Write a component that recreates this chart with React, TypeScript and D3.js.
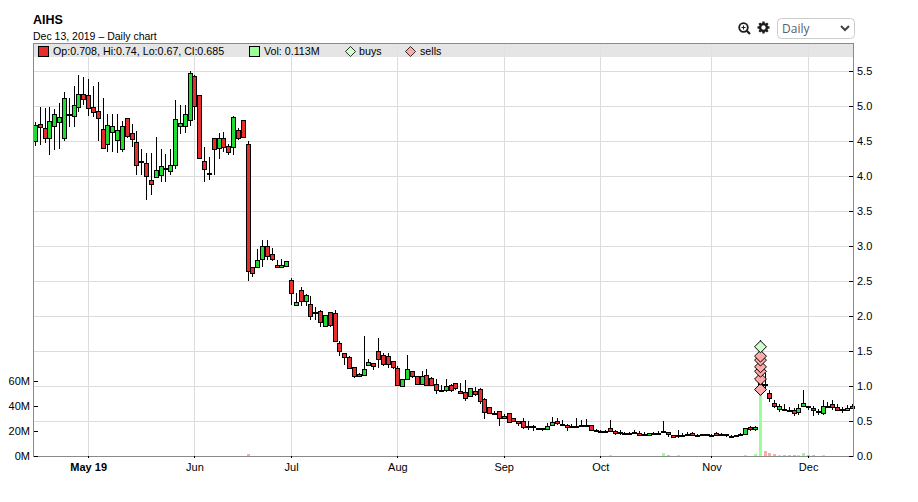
// App.tsx
import { useEffect, useRef } from 'react';
import * as d3 from 'd3';

const opens = [
  4.5, 4.745, 4.683, 4.545, 4.716, 4.773, 4.545, 4.88, 4.859, 4.988,
  5.169, 5.16, 4.988, 4.93, 4.674, 4.459, 4.63, 4.516, 4.388, 4.826,
  4.611, 4.483, 4.21, 4.188, 3.945, 3.988, 4.012, 4.115, 4.074, 4.16,
  4.716, 4.716, 4.8, 5.435, 5.16, 4.216, 4.045, 4.54, 4.407, 4.54,
  4.43, 4.416, 4.66, 4.8, 4.459, 2.702, 2.702, 2.816, 3.002, 2.883,
  2.73, 2.7, 2.716, 2.516, 2.159, 2.374, 2.216, 2.174, 2.055, 2.074,
  1.859, 2.06, 2.045, 1.616, 1.474, 1.416, 1.273, 1.169, 1.155, 1.302,
  1.33, 1.502, 1.445, 1.43, 1.359, 1.259, 1.002, 1.102, 1.217, 1.145,
  1.031, 1.159, 1.116, 1.031, 0.945, 0.945, 1.017, 1.045, 0.93, 0.917,
  0.859, 0.93, 0.959, 0.816, 0.702, 0.617, 0.645, 0.574, 0.617, 0.545,
  0.502, 0.502, 0.426, 0.43, 0.397, 0.397, 0.388, 0.445, 0.502, 0.459,
  0.445, 0.431, 0.431, 0.45, 0.45, 0.445, 0.378, 0.364, 0.355, 0.397,
  0.359, 0.345, 0.33, 0.326, 0.34, 0.331, 0.317, 0.293, 0.326, 0.335,
  0.352, 0.345, 0.302, 0.297, 0.302, 0.317, 0.331, 0.307, 0.293, 0.312,
  0.302, 0.331, 0.312, 0.312, 0.283, 0.293, 0.293, 0.317, 0.412, 0.388,
  1.0, 1.03, 0.902, 0.764, 0.674, 0.674, 0.664, 0.655, 0.633, 0.717,
  0.717, 0.688, 0.64, 0.617, 0.72, 0.74, 0.702, 0.67, 0.664, 0.708,
];
const highs = [
  4.77, 4.99, 4.97, 4.99, 4.96, 5.04, 5.2, 5.12, 5.29, 5.45,
  5.416, 5.38, 5.28, 5.345, 5.12, 4.89, 4.88, 4.88, 4.78, 4.83,
  4.745, 4.64, 4.39, 4.33, 4.33, 4.56, 4.39, 4.31, 4.38, 5.09,
  5.02, 5.01, 5.507, 5.45, 5.16, 4.416, 4.27, 4.54, 4.617, 4.635,
  4.46, 4.864, 4.688, 4.8, 4.507, 2.702, 2.964, 3.092, 3.09, 2.974,
  2.807, 2.816, 2.788, 2.545, 2.33, 2.416, 2.32, 2.29, 2.13, 2.09,
  2.016, 2.06, 2.09, 1.65, 1.474, 1.426, 1.273, 1.188, 1.72, 1.38,
  1.33, 1.688, 1.474, 1.474, 1.359, 1.283, 1.102, 1.45, 1.217, 1.145,
  1.21, 1.25, 1.135, 1.1, 1.02, 1.1, 1.03, 1.045, 1.045, 1.088,
  0.974, 0.988, 0.974, 0.83, 0.702, 0.65, 0.645, 0.593, 0.617, 0.545,
  0.502, 0.545, 0.502, 0.45, 0.397, 0.397, 0.474, 0.559, 0.545, 0.52,
  0.464, 0.455, 0.545, 0.512, 0.53, 0.45, 0.392, 0.378, 0.37, 0.52,
  0.378, 0.378, 0.35, 0.345, 0.37, 0.364, 0.34, 0.326, 0.345, 0.355,
  0.493, 0.345, 0.302, 0.378, 0.33, 0.34, 0.34, 0.317, 0.317, 0.32,
  0.32, 0.34, 0.325, 0.32, 0.297, 0.3, 0.33, 0.402, 0.422, 0.435,
  1.664, 1.19, 0.95, 0.807, 0.75, 0.75, 0.7, 0.69, 0.736, 0.95,
  0.717, 0.72, 0.665, 0.793, 0.768, 0.793, 0.75, 0.7, 0.735, 0.74,
];
const lows = [
  4.43, 4.45, 4.47, 4.3, 4.37, 4.38, 4.5, 4.7, 4.7, 4.91,
  5.02, 4.86, 4.85, 4.5, 4.38, 4.34, 4.34, 4.33, 4.34, 4.55,
  4.42, 4.02, 4.02, 3.655, 3.735, 3.97, 3.91, 3.91, 4.01, 4.1,
  4.6, 4.61, 4.71, 4.807, 4.26, 3.91, 3.94, 4.02, 4.24, 4.34,
  4.3, 4.3, 4.52, 4.545, 2.5, 2.555, 2.702, 2.707, 2.807, 2.783,
  2.7, 2.7, 2.716, 2.154, 2.159, 2.14, 2.14, 1.95, 1.95, 1.84,
  1.859, 1.84, 1.645, 1.435, 1.307, 1.245, 1.116, 1.13, 1.155, 1.283,
  1.235, 1.26, 1.283, 1.26, 1.245, 1.012, 1.002, 1.102, 1.11, 1.01,
  1.01, 1.007, 1.017, 0.888, 0.917, 0.917, 0.917, 0.94, 0.893, 0.783,
  0.859, 0.859, 0.75, 0.53, 0.617, 0.58, 0.426, 0.53, 0.488, 0.502,
  0.426, 0.388, 0.378, 0.354, 0.378, 0.36, 0.388, 0.445, 0.445, 0.436,
  0.355, 0.4, 0.398, 0.426, 0.426, 0.355, 0.355, 0.35, 0.331, 0.359,
  0.298, 0.298, 0.316, 0.298, 0.321, 0.293, 0.283, 0.293, 0.302, 0.316,
  0.33, 0.269, 0.274, 0.255, 0.283, 0.293, 0.298, 0.298, 0.293, 0.293,
  0.29, 0.307, 0.3, 0.269, 0.269, 0.274, 0.293, 0.312, 0.355, 0.355,
  0.9, 0.926, 0.77, 0.688, 0.626, 0.64, 0.64, 0.57, 0.58, 0.717,
  0.664, 0.57, 0.59, 0.583, 0.683, 0.664, 0.664, 0.617, 0.664, 0.67,
];
const closes = [
  4.735, 4.7, 4.545, 4.788, 4.883, 4.845, 5.11, 4.88, 5.01, 5.169,
  5.1, 4.97, 4.916, 4.826, 4.402, 4.726, 4.71, 4.654, 4.71, 4.578,
  4.53, 4.159, 4.2, 4.0, 3.888, 4.083, 4.14, 4.12, 4.16, 4.816,
  4.76, 4.888, 5.474, 5.002, 4.26, 4.097, 4.045, 4.388, 4.54, 4.412,
  4.345, 4.845, 4.545, 4.554, 2.645, 2.616, 2.802, 3.002, 2.859, 2.816,
  2.7, 2.726, 2.788, 2.326, 2.202, 2.216, 2.302, 2.002, 2.045, 1.916,
  2.016, 1.874, 1.645, 1.502, 1.416, 1.259, 1.145, 1.145, 1.245, 1.345,
  1.288, 1.388, 1.316, 1.316, 1.273, 1.012, 1.102, 1.245, 1.15, 1.03,
  1.145, 1.017, 1.017, 0.945, 0.93, 1.002, 0.945, 0.974, 0.902, 0.83,
  0.974, 0.888, 0.788, 0.631, 0.617, 0.617, 0.545, 0.545, 0.488, 0.502,
  0.474, 0.416, 0.426, 0.42, 0.397, 0.397, 0.431, 0.488, 0.469, 0.459,
  0.421, 0.431, 0.431, 0.45, 0.45, 0.374, 0.378, 0.364, 0.355, 0.359,
  0.331, 0.345, 0.33, 0.326, 0.34, 0.307, 0.293, 0.326, 0.326, 0.335,
  0.35, 0.317, 0.274, 0.297, 0.302, 0.317, 0.307, 0.307, 0.317, 0.293,
  0.302, 0.307, 0.312, 0.293, 0.283, 0.293, 0.317, 0.402, 0.388, 0.416,
  1.3, 1.03, 0.83, 0.712, 0.712, 0.674, 0.664, 0.617, 0.683, 0.76,
  0.717, 0.66, 0.64, 0.712, 0.72, 0.702, 0.664, 0.67, 0.688, 0.685,
];
const volumes = [
  0.3, 0.2, 0.2, 0.3, 0.2, 0.2, 0.3, 0.2, 0.2, 0.3,
  0.2, 0.2, 0.2, 0.2, 0.3, 0.2, 0.2, 0.2, 0.2, 0.2,
  0.2, 0.3, 0.2, 0.3, 0.2, 0.2, 0.2, 0.2, 0.2, 0.3,
  0.2, 0.2, 0.3, 0.3, 0.3, 0.2, 0.2, 0.2, 0.2, 0.2,
  0.2, 0.3, 0.2, 0.2, 1.2, 0.3, 0.3, 0.3, 0.2, 0.2,
  0.1, 0.1, 0.1, 0.3, 0.2, 0.2, 0.2, 0.2, 0.2, 0.2,
  0.2, 0.2, 0.3, 0.3, 0.2, 0.2, 0.2, 0.2, 0.3, 0.2,
  0.2, 0.3, 0.2, 0.2, 0.2, 0.3, 0.2, 0.3, 0.2, 0.2,
  0.2, 0.2, 0.2, 0.2, 0.2, 0.2, 0.2, 0.2, 0.2, 0.2,
  0.2, 0.2, 0.2, 0.3, 0.2, 0.2, 0.3, 0.2, 0.2, 0.2,
  0.2, 0.2, 0.2, 0.2, 0.2, 0.2, 0.2, 0.3, 0.2, 0.2,
  0.2, 0.2, 0.2, 0.2, 0.2, 0.2, 0.2, 0.2, 0.2, 1.0,
  0.3, 0.2, 0.2, 0.2, 0.2, 0.2, 0.2, 0.3, 0.2, 0.3,
  2.3, 0.8, 0.2, 0.9, 0.2, 0.2, 0.2, 0.2, 0.2, 0.2,
  0.2, 0.2, 0.2, 0.2, 0.2, 0.2, 0.3, 0.9, 0.3, 1.6,
  66, 4.2, 2.0, 1.2, 1.0, 1.0, 1.0, 1.0, 1.0, 2.4,
  1.0, 1.1, 0.3, 0.8, 0.2, 0.2, 0.2, 0.2, 0.3, 0.113,
];

const monthIndex = [11, 33, 53, 75, 97, 117, 140, 160];
const monthLabels = ['May 19', 'Jun', 'Jul', 'Aug', 'Sep', 'Oct', 'Nov', 'Dec'];
const priceTicks = [0, 0.5, 1, 1.5, 2, 2.5, 3, 3.5, 4, 4.5, 5, 5.5];
const volumeTicks = [0, 20, 40, 60];

const tradeIndex = 150;
const buyPrices = [1.56];
const sellPrices = [0.95, 1.1, 1.21, 1.274, 1.37, 1.426];

const FONT = '"Liberation Sans", Arial, sans-serif';
const RED = '#e52e2e';
const GREEN = '#1fdc30';

export default function App() {
  const svgRef = useRef<SVGSVGElement>(null);

  useEffect(() => {
    if (!svgRef.current) return;
    const svg = d3.select(svgRef.current);
    svg.selectAll('*').remove();

    const left = 33;
    const right = 853;
    const top = 43;
    const bottom = 456;

    const x = d3.scaleLinear().domain([0, 169]).range([35, 851.6]);
    const y = d3.scaleLinear().domain([0, 5.5]).range([bottom, 71]);
    const yVol = d3.scaleLinear().domain([0, 60]).range([bottom, 380.5]);

    const px = (v: number) => Math.round(v) + 0.5;

    // Grid
    const grid = svg.append('g').attr('stroke', '#dcdcdc').attr('shape-rendering', 'crispEdges');
    priceTicks.forEach(t => {
      grid.append('line').attr('x1', left).attr('x2', right).attr('y1', px(y(t))).attr('y2', px(y(t)));
    });
    monthIndex.forEach(i => {
      grid.append('line').attr('x1', px(x(i))).attr('x2', px(x(i))).attr('y1', top).attr('y2', bottom);
    });

    // Legend band
    svg.append('rect')
      .attr('x', left).attr('y', top).attr('width', right - left).attr('height', 14)
      .attr('fill', '#e2e2e2').attr('fill-opacity', 0.9);

    // Volume
    const vol = svg.append('g').attr('shape-rendering', 'crispEdges');
    volumes.forEach((v, i) => {
      const up = i === 0 || closes[i] >= closes[i - 1];
      vol.append('rect')
        .attr('x', Math.round(x(i)) - 1)
        .attr('y', yVol(v))
        .attr('width', 3)
        .attr('height', bottom - yVol(v))
        .attr('fill', up ? '#99ff99' : '#ffa8a8');
    });

    // Candles
    const candles = svg.append('g').attr('shape-rendering', 'crispEdges');
    opens.forEach((o, i) => {
      const c = closes[i];
      const cx = Math.round(x(i));
      candles.append('line')
        .attr('x1', cx + 0.5).attr('x2', cx + 0.5)
        .attr('y1', y(highs[i])).attr('y2', y(lows[i]))
        .attr('stroke', '#000');
      const y0 = Math.round(y(Math.max(o, c)));
      const y1 = Math.round(y(Math.min(o, c)));
      candles.append('rect')
        .attr('x', cx - 1.5)
        .attr('y', y0 + 0.5)
        .attr('width', 4)
        .attr('height', Math.max(1, y1 - y0))
        .attr('fill', c < o ? RED : GREEN)
        .attr('stroke', '#000');
    });

    // Trade markers
    const diamond = d3.symbol().type(d3.symbolDiamond2).size(90);
    const markers = svg.append('g');
    sellPrices.forEach(p => {
      markers.append('path')
        .attr('d', diamond)
        .attr('transform', `translate(${px(x(tradeIndex))},${y(p)})`)
        .attr('fill', '#ffaaaa').attr('stroke', '#000').attr('stroke-width', 1);
    });
    buyPrices.forEach(p => {
      markers.append('path')
        .attr('d', diamond)
        .attr('transform', `translate(${px(x(tradeIndex))},${y(p)})`)
        .attr('fill', '#ccffcc').attr('stroke', '#000').attr('stroke-width', 1);
    });

    // Plot border
    svg.append('rect')
      .attr('x', left + 0.5).attr('y', top + 0.5)
      .attr('width', right - left).attr('height', bottom - top)
      .attr('fill', 'none').attr('stroke', '#8a8a8a').attr('shape-rendering', 'crispEdges');

    // Axes
    const styleAxis = (g: d3.Selection<SVGGElement, unknown, null, undefined>) => {
      g.select('.domain').remove();
      g.selectAll('line').attr('stroke', '#000').attr('shape-rendering', 'crispEdges');
      g.selectAll('text').style('font-family', FONT).style('font-size', '11px').attr('fill', '#000');
    };

    svg.append('g')
      .attr('transform', `translate(${right},0)`)
      .call(d3.axisRight(y).tickValues(priceTicks).tickSize(-4).tickPadding(4).tickFormat(d3.format('.1f')) as any)
      .call(styleAxis as any);

    svg.append('g')
      .attr('transform', `translate(${left + 1},0)`)
      .call(d3.axisLeft(yVol).tickValues(volumeTicks).tickSize(-4).tickPadding(4).tickFormat(d => `${d}M`) as any)
      .call(styleAxis as any);

    const xAxis = svg.append('g')
      .attr('transform', `translate(0,${bottom})`)
      .call(d3.axisBottom(x).tickValues(monthIndex).tickSize(2).tickPadding(5).tickFormat((_, i) => monthLabels[i]) as any)
      .call(styleAxis as any);
    xAxis.selectAll('text').filter((_, i) => i === 0).style('font-weight', 'bold');

    // Titles
    const text = (tx: number, ty: number, s: string, size = 10.7, weight = 'normal') =>
      svg.append('text')
        .attr('x', tx).attr('y', ty)
        .style('font-family', FONT).style('font-size', `${size}px`).style('font-weight', weight)
        .attr('fill', '#000')
        .text(s);

    text(33, 24, 'AIHS', 12.5, 'bold');
    text(33, 40, 'Dec 13, 2019 \u2013 Daily chart', 10.5);

    // Legend
    svg.append('rect').attr('x', 38.5).attr('y', 46.5).attr('width', 10).attr('height', 10)
      .attr('fill', RED).attr('stroke', '#000').attr('shape-rendering', 'crispEdges');
    text(53, 55, 'Op:0.708, Hi:0.74, Lo:0.67, Cl:0.685');
    svg.append('rect').attr('x', 249.5).attr('y', 46.5).attr('width', 10).attr('height', 10)
      .attr('fill', '#99ff99').attr('stroke', '#000').attr('shape-rendering', 'crispEdges');
    text(264, 55, 'Vol: 0.113M');
    const legendDiamond = d3.symbol().type(d3.symbolDiamond2).size(64);
    svg.append('path').attr('d', legendDiamond).attr('transform', 'translate(350.5,51.5)')
      .attr('fill', '#ccffcc').attr('stroke', '#000').attr('stroke-width', 0.8);
    text(359, 55, 'buys');
    svg.append('path').attr('d', legendDiamond).attr('transform', 'translate(410.5,51.5)')
      .attr('fill', '#ffaaaa').attr('stroke', '#000').attr('stroke-width', 0.8);
    text(420, 55, 'sells');

    // Toolbar icons
    const zoomIcon = svg.append('g').attr('transform', 'translate(743.5,27.5)')
      .attr('fill', 'none').attr('stroke', '#1c1c1c');
    zoomIcon.append('circle').attr('r', 4.3).attr('stroke-width', 1.8);
    zoomIcon.append('line').attr('x1', 3.2).attr('y1', 3.2).attr('x2', 6.5).attr('y2', 6.5).attr('stroke-width', 2.2);
    zoomIcon.append('path').attr('d', 'M-2,0H2M0,-2V2').attr('stroke-width', 1);

    const gear = svg.append('g').attr('transform', 'translate(763.5,27.5)');
    d3.range(4).forEach(k => {
      gear.append('rect')
        .attr('x', -1.2).attr('y', -6).attr('width', 2.4).attr('height', 12)
        .attr('fill', '#1c1c1c').attr('transform', `rotate(${k * 45})`);
    });
    gear.append('circle').attr('r', 3.4).attr('fill', '#fff').attr('stroke', '#1c1c1c').attr('stroke-width', 2.4);

    // Period select
    svg.append('rect').attr('x', 777.5).attr('y', 18.5).attr('width', 77).attr('height', 20).attr('rx', 4)
      .attr('fill', '#fff').attr('stroke', '#cccccc');
    svg.append('text').attr('x', 782).attr('y', 33)
      .style('font-family', '"Open Sans", sans-serif').style('font-size', '12px')
      .attr('fill', '#555e6e').text('Daily');
    svg.append('path').attr('d', 'M841,26l4,4l4,-4').attr('fill', 'none').attr('stroke', '#444').attr('stroke-width', 2);
  }, []);

  return (
    <svg
      ref={svgRef}
      width="918"
      height="502"
      style={{ position: 'absolute', left: 0, top: 0, background: '#fff' }}
    ></svg>
  );
}
